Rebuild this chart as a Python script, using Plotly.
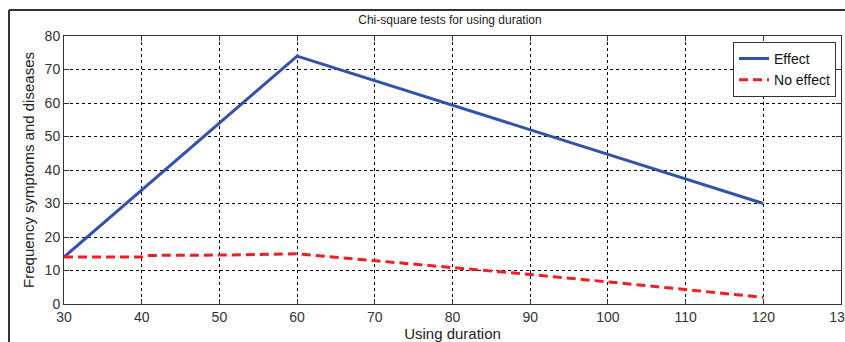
import plotly.graph_objects as go

x_effect = [30, 60, 120]
y_effect = [14, 74, 30]

x_noeffect = [30, 40, 41, 50, 60, 70, 80, 90, 100, 110, 120]
y_noeffect = [14, 14, 14.5, 14.6, 15, 13, 11, 8.8, 6.6, 4.4, 2]

x_ticks = [30, 40, 50, 60, 70, 80, 90, 100, 110, 120, 130]
y_ticks = [0, 10, 20, 30, 40, 50, 60, 70, 80]

FONT = "Liberation Sans, Arial, sans-serif"
W, H = 845, 342
ml, mr, mt, mb = 64, 4, 36, 38
pw = W - ml - mr
ph = H - mt - mb

fig = go.Figure()
fig.add_trace(go.Scatter(x=x_effect, y=y_effect, mode="lines", name="Effect",
                         line=dict(color="rgb(52,82,170)", width=3)))
fig.add_trace(go.Scatter(x=x_noeffect, y=y_noeffect, mode="lines", name="No effect",
                         line=dict(color="rgb(240,30,35)", width=3, dash="9px,5px")))

axis_common = dict(
    showline=True, linecolor="#333333", linewidth=1, mirror="ticks",
    ticks="inside", ticklen=5, tickcolor="#333333", automargin=False,
    ticklabeloverflow="allow",
    showgrid=True, gridcolor="black", gridwidth=1, griddash="3px,3px",
    zeroline=False, tickfont=dict(family=FONT, size=14, color="#333333"),
)

fig.update_xaxes(range=[30, 130], tickvals=x_ticks, ticktext=[str(v) for v in x_ticks],
                 title=dict(text="Using duration", font=dict(family=FONT, size=15, color="#222222"), standoff=0),
                 **axis_common)
fig.update_yaxes(range=[0, 80], tickvals=y_ticks, ticktext=[str(v) for v in y_ticks],
                 title=dict(text="Frequency symptoms and diseases", font=dict(family=FONT, size=15, color="#222222"), standoff=6),
                 **axis_common)

# outer figure frame (top and left edges)
fx0 = (9 - ml) / pw
fy_top = 1 + (mt - 10) / ph
fy_bot = -(mb + 20) / ph
fig.add_shape(type="line", xref="paper", yref="paper", x0=fx0, x1=1.2, y0=fy_top, y1=fy_top,
              line=dict(color="#333333", width=2))
fig.add_shape(type="line", xref="paper", yref="paper", x0=fx0, x1=fx0, y0=fy_top, y1=fy_bot,
              line=dict(color="#333333", width=2))

fig.update_layout(
    width=W, height=H,
    margin=dict(l=ml, r=mr, t=mt, b=mb, autoexpand=False),
    paper_bgcolor="white", plot_bgcolor="white",
    title=dict(text="Chi-square tests for using duration", x=450 / W, xanchor="center",
               y=1 - 20 / H, yanchor="middle", yref="container", automargin=False,
               font=dict(family=FONT, size=12, color="#222222")),
    legend=dict(x=0.9936, y=0.978, xanchor="right", yanchor="top",
                bgcolor="white", bordercolor="#333333", borderwidth=1,
                font=dict(family=FONT, size=14, color="#111111"),
                tracegroupgap=0, itemwidth=30),
    showlegend=True,
)

fig.write_html("out.html",
               config={"displayModeBar": False},
               post_script="document.body.style.margin='0';document.body.style.overflow='hidden';")
